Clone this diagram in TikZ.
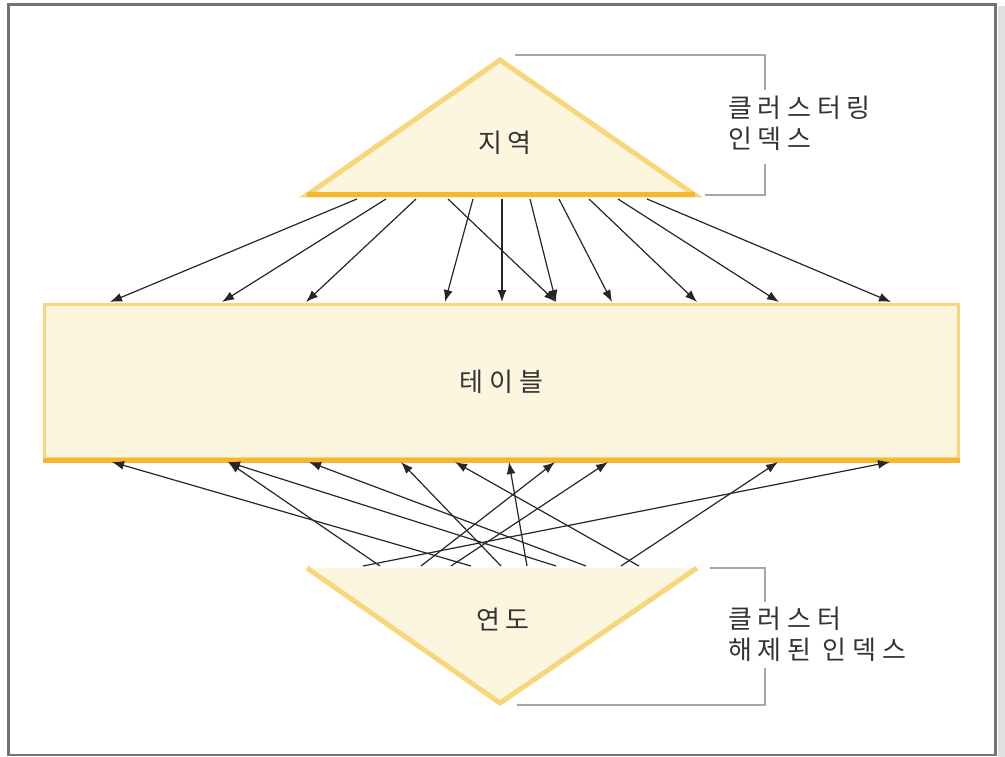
\documentclass[tikz,border=0pt]{standalone}
\usepackage{fontspec}
\newfontfamily\kr[LetterSpace=22]{Noto Sans CJK KR}
\usetikzlibrary{arrows.meta}

\begin{document}
\begin{tikzpicture}[x=1pt,y=-1pt,
  lbl/.style={font=\kr\fontsize{26}{31}\selectfont,text=black!80,inner sep=0pt},
  arr/.style={-{Latex[length=12pt,width=9pt]},line width=1.2pt,black!85},
  brk/.style={draw=black!35,line width=1.8pt}]
\definecolor{cream}{HTML}{FDF6DF}
\definecolor{pale}{HTML}{F8D67C}
\definecolor{deep}{HTML}{F6B631}
\useasboundingbox (0,0) rectangle (1005,757);
% frame
\fill[black!12] (998,6) rectangle (1005,757);
\draw[black!55,line width=2.5pt] (8.5,4.5) rectangle (995.5,755);
% clustered index (top)
\coordinate (rtl) at (307,195); \coordinate (rtop) at (500,60); \coordinate (rtr) at (695,195);
\filldraw[fill=cream,draw=pale,line width=5pt] (rtl) -- (rtop) -- (rtr) -- cycle;
\draw[deep,line width=5pt] (rtl) -- (rtr);
\node[lbl] (region) at (505,143) {지역};
\draw[brk] (515,55) -- (765,55) -- (765,90);
\draw[brk] (765,164) -- (765,195) -- (705,195);
\node[lbl,anchor=west,align=left] (cidx) at (728,123) {클러스터링\\인덱스};
% table
\node[lbl,draw=pale,fill=cream,line width=3pt,minimum width=914pt,minimum height=154pt] (tbl) at (501.5,381.5) {테이블};
\draw[deep,line width=5pt] (tbl.south west) -- (tbl.south east);
% unclustered index (bottom)
\coordinate (ybl) at (307,568); \coordinate (ybot) at (500,703); \coordinate (ybr) at (697,568);
\fill[cream] (ybl) -- (ybot) -- (ybr) -- cycle;
\draw[pale,line width=5pt] (ybl) -- (ybot) -- (ybr);
\node[lbl] (year) at (503,620) {연도};
\draw[brk] (710,568) -- (765,568) -- (765,602);
\draw[brk] (765,668) -- (765,705) -- (517,705);
\node[lbl,anchor=west,align=left] (uidx) at (728,634) {클러스터\\해제된 인덱스};
% arrows
\foreach \x [count=\i] in {357,386,416,448,473,502,530,559,589,618,647} \coordinate (s\i) at (\x,199);
\foreach \x [count=\i] in {110,222,306,445,502,556,612,697,779,891} \coordinate (e\i) at (\x,302);
\foreach \a/\b in {1/1,2/2,3/3,4/6,5/4,6/5,7/6,8/7,9/8,10/9,11/10} \draw[arr] (s\a) -- (e\b);
\foreach \x [count=\i] in {363,380,421,451,471,501,527,556,586,621,639} \coordinate (u\i) at (\x,566);
\foreach \x [count=\i] in {112,228,309,401,455,509,555,608,778,890} \coordinate (d\i) at (\x,462);
\foreach \a/\b in {1/10,2/2,3/7,4/8,5/1,6/4,7/6,8/2,9/3,10/9,11/5} \draw[arr] (u\a) -- (d\b);
\end{tikzpicture}
\end{document}
